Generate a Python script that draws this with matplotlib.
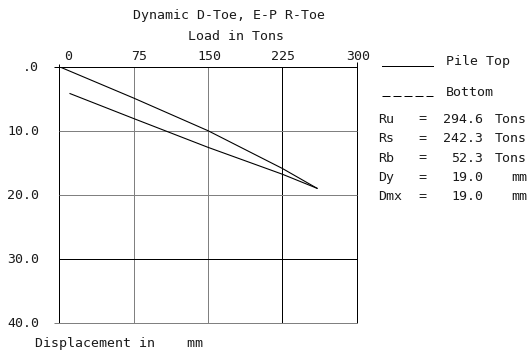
import matplotlib
matplotlib.use("Agg")
import matplotlib.pyplot as plt

# Load-displacement data (load in tons, displacement in mm)
top_load = [0, 75, 150, 225, 260]
top_disp = [0.0, 4.9, 10.0, 15.9, 19.0]
bottom_load = [10.8, 75, 150, 225, 260]
bottom_disp = [4.2, 8.1, 12.6, 16.8, 19.0]

load_ticks = [0, 75, 150, 225, 300]
load_labels = ["0", "75", "150", "225", "300"]
disp_ticks = [0, 10, 20, 30, 40]
disp_labels = [".0", "10.0", "20.0", "30.0", "40.0"]

summary_names = ["Ru", "Rs", "Rb", "Dy", "Dmx"]
summary_values = ["294.6", "242.3", "52.3", "19.0", "19.0"]
summary_units = ["Tons", "Tons", "Tons", "mm", "mm"]

W, H = 531, 352
DPI = 100
PX = 72.0 / DPI  # points per pixel

plt.rcParams["font.family"] = ["DejaVu Sans Mono", "DejaVu Sans"]
FS = 9.5
TXT = "#1a1a1a"

fig = plt.figure(figsize=(W / DPI, H / DPI), dpi=DPI)
fig.patch.set_facecolor("white")

left, right, top, bottom = 59.3, 356.7, 66.7, 322.7
ax = fig.add_axes([left / W, 1 - bottom / H, (right - left) / W, (bottom - top) / H])
ax.set_xlim(0, 300)
ax.set_ylim(40, 0)
for s in ax.spines.values():
    s.set_visible(False)
ax.set_xticks([])
ax.set_yticks([])
ax.patch.set_alpha(0)

lw = 1.0 * PX
grid_v_colors = ["black", "#808080", "#808080", "black", "black"]
grid_h_colors = ["black", "#808080", "#808080", "black", "#808080"]
ext_v = {0: -0.4, 300: -0.75}
for t, c in zip(load_ticks, grid_v_colors):
    ax.plot([t, t], [ext_v.get(t, 0), 40], color=c, lw=lw, clip_on=False,
            solid_capstyle="butt")
for v, c in zip(disp_ticks, grid_h_colors):
    x0 = -5.0 if v in (0, 40) else 0
    ax.plot([x0, 300], [v, v], color=c, lw=lw, clip_on=False,
            solid_capstyle="butt")

# Pile top and bottom curves
ax.plot(top_load, top_disp, color="black", lw=1.1 * PX)
ax.plot(bottom_load, bottom_disp, color="black", lw=1.1 * PX)

# Axis labels along the top and left
for t, lab in zip(load_ticks, load_labels):
    ax.annotate(lab, xy=(t, 0), xycoords="data",
                xytext=(13 * PX, 9.7 * PX), textcoords="offset points",
                ha="right", va="center", fontsize=FS, color=TXT,
                annotation_clip=False)
for v, lab in zip(disp_ticks, disp_labels):
    ax.annotate(lab, xy=(0, v), xycoords="data",
                xytext=(-20.3 * PX, -1.0 * PX), textcoords="offset points",
                ha="right", va="center", fontsize=FS, color=TXT,
                annotation_clip=False)


def ftext(x, y, s, **kw):
    kw.setdefault("fontsize", FS)
    kw.setdefault("color", TXT)
    kw.setdefault("va", "center")
    fig.text(x / W, 1 - y / H, s, **kw)


ftext(229, 15, "Dynamic D-Toe, E-P R-Toe", ha="center")
ftext(236, 37, "Load in Tons", ha="center")
ftext(35, 343, "Displacement in    mm", ha="left")

# Legend block
fig.add_artist(plt.Line2D([382 / W, 433 / W], [1 - 66 / H, 1 - 66 / H],
                          color="black", lw=lw))
fig.add_artist(plt.Line2D([382 / W, 433 / W], [1 - 96 / H, 1 - 96 / H],
                          color="black", lw=lw, dashes=(8, 3)))
ftext(446, 62, "Pile Top", ha="left")
ftext(446, 92, "Bottom", ha="left")

row_y = [119, 138.5, 158, 177.5, 197]
for y, n, val, u in zip(row_y, summary_names, summary_values, summary_units):
    ftext(378, y, n, ha="left")
    ftext(418, y, "=", ha="left")
    ftext(483, y, val, ha="right")
    ftext(527, y, u, ha="right")

fig.savefig("out.png", dpi=DPI, facecolor="white")
